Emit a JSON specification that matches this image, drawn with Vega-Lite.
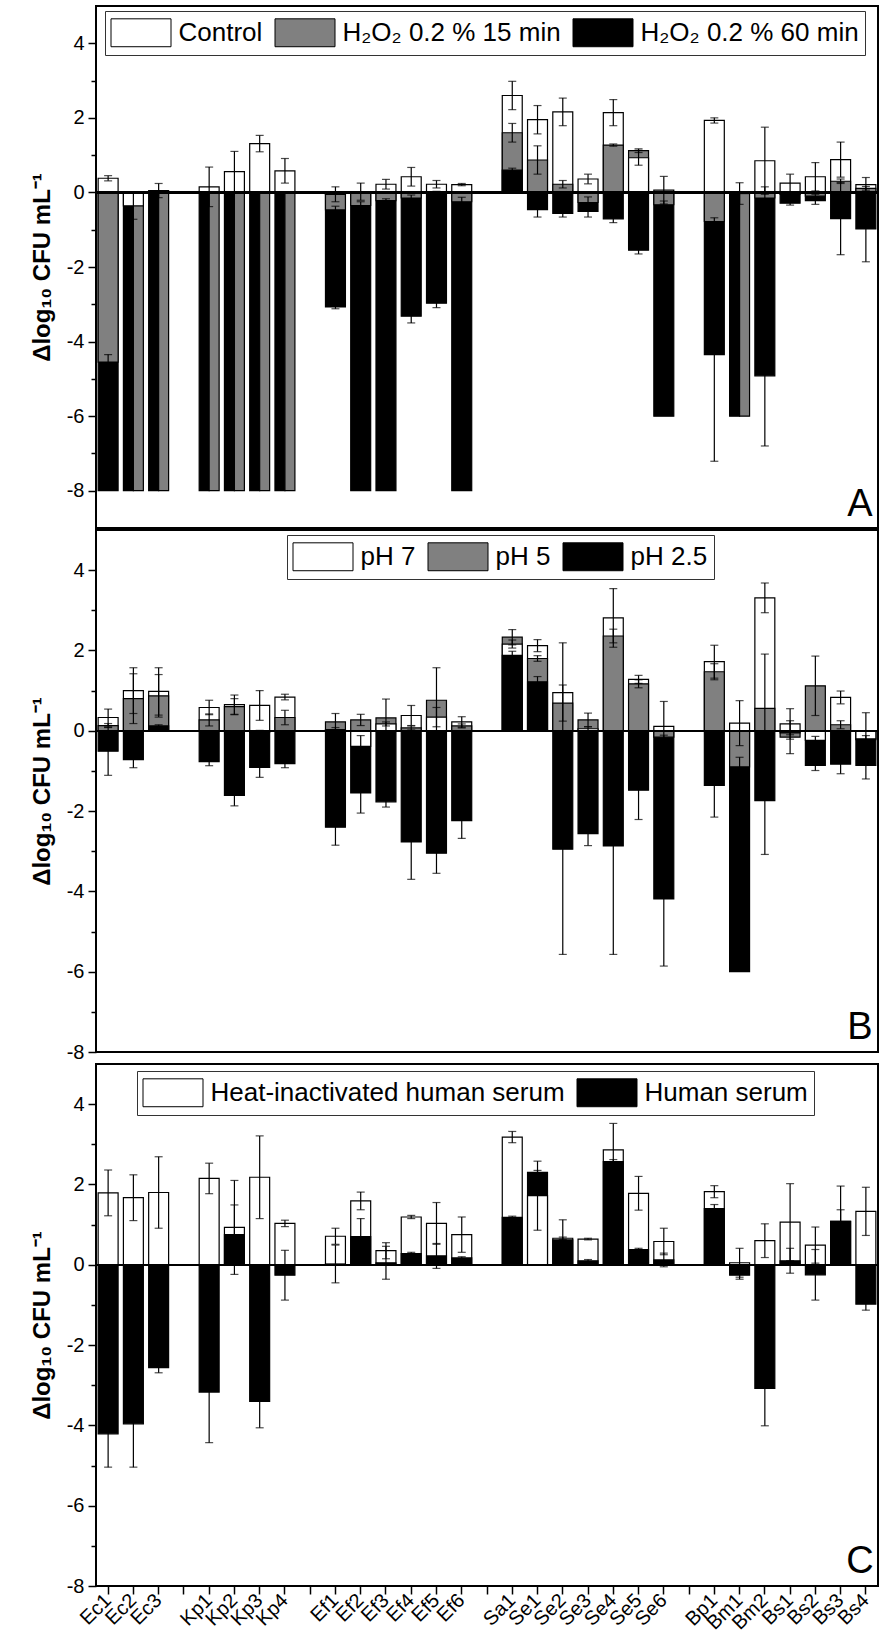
{
  "$schema": "https://vega.github.io/schema/vega-lite/v6.json",
  "padding": {"left": 29, "top": 5, "right": 0, "bottom": 0},
  "spacing": 0,
  "config": {
    "font": "Liberation Sans",
    "view": {"stroke": "black", "strokeWidth": 2},
    "axis": {"labelFontSize": 20, "labelColor": "black", "tickColor": "black", "tickWidth": 1.5, "domain": false, "grid": false, "titleColor": "black"},
    "legend": {
      "orient": "none", "direction": "horizontal", "title": null,
      "labelFontSize": 26, "labelColor": "black", "labelLimit": 600,
      "symbolType": "M-2,-0.93H2V0.93H-2Z", "symbolSize": 900, "symbolOffset": 14.5, "labelOffset": 22,
      "symbolStrokeColor": "black", "symbolStrokeWidth": 1, "symbolOpacity": 1,
      "strokeColor": "#333", "fillColor": "white", "padding": 6, "columnPadding": 10
    }
  },
  "datasets": {
    "h2o2": [
      {"k": "Ec1", "s": "H₂O₂ 0.2 % 60 min", "v": -8, "e": 0},
      {"k": "Ec1", "s": "H₂O₂ 0.2 % 15 min", "v": -4.55, "e": 0.2},
      {"k": "Ec1", "s": "Control", "v": 0.38, "e": 0.07},
      {"k": "Ec2", "s": "H₂O₂ 0.2 % 60 min", "v": -8, "e": 0, "tie": true},
      {"k": "Ec2", "s": "H₂O₂ 0.2 % 15 min", "v": -8, "e": 0, "tie": true},
      {"k": "Ec2", "s": "Control", "v": -0.36, "e": 0.36},
      {"k": "Ec3", "s": "H₂O₂ 0.2 % 60 min", "v": -8, "e": 0, "tie": true},
      {"k": "Ec3", "s": "H₂O₂ 0.2 % 15 min", "v": -8, "e": 0, "tie": true},
      {"k": "Ec3", "s": "Control", "v": 0.05, "e": 0.19},
      {"k": "Kp1", "s": "H₂O₂ 0.2 % 60 min", "v": -8, "e": 0, "tie": true},
      {"k": "Kp1", "s": "H₂O₂ 0.2 % 15 min", "v": -8, "e": 0, "tie": true},
      {"k": "Kp1", "s": "Control", "v": 0.15, "e": 0.53},
      {"k": "Kp2", "s": "H₂O₂ 0.2 % 60 min", "v": -8, "e": 0, "tie": true},
      {"k": "Kp2", "s": "H₂O₂ 0.2 % 15 min", "v": -8, "e": 0, "tie": true},
      {"k": "Kp2", "s": "Control", "v": 0.56, "e": 0.54},
      {"k": "Kp3", "s": "H₂O₂ 0.2 % 60 min", "v": -8, "e": 0, "tie": true},
      {"k": "Kp3", "s": "H₂O₂ 0.2 % 15 min", "v": -8, "e": 0, "tie": true},
      {"k": "Kp3", "s": "Control", "v": 1.31, "e": 0.22},
      {"k": "Kp4", "s": "H₂O₂ 0.2 % 60 min", "v": -8, "e": 0, "tie": true},
      {"k": "Kp4", "s": "H₂O₂ 0.2 % 15 min", "v": -8, "e": 0, "tie": true},
      {"k": "Kp4", "s": "Control", "v": 0.58, "e": 0.33},
      {"k": "Ef1", "s": "H₂O₂ 0.2 % 60 min", "v": -3.07, "e": 0.05},
      {"k": "Ef1", "s": "H₂O₂ 0.2 % 15 min", "v": -0.47, "e": 0.1},
      {"k": "Ef1", "s": "Control", "v": -0.05, "e": 0.2},
      {"k": "Ef2", "s": "H₂O₂ 0.2 % 60 min", "v": -8, "e": 0},
      {"k": "Ef2", "s": "H₂O₂ 0.2 % 15 min", "v": -0.35, "e": 0.1},
      {"k": "Ef2", "s": "Control", "v": 0.02, "e": 0.23},
      {"k": "Ef3", "s": "H₂O₂ 0.2 % 60 min", "v": -8, "e": 0},
      {"k": "Ef3", "s": "H₂O₂ 0.2 % 15 min", "v": -0.22, "e": 0.05},
      {"k": "Ef3", "s": "Control", "v": 0.22, "e": 0.13},
      {"k": "Ef4", "s": "H₂O₂ 0.2 % 60 min", "v": -3.32, "e": 0.18},
      {"k": "Ef4", "s": "Control", "v": 0.42, "e": 0.25},
      {"k": "Ef4", "s": "H₂O₂ 0.2 % 15 min", "v": -0.15, "e": 0.08},
      {"k": "Ef5", "s": "H₂O₂ 0.2 % 60 min", "v": -2.97, "e": 0.12},
      {"k": "Ef5", "s": "Control", "v": 0.22, "e": 0.1},
      {"k": "Ef5", "s": "H₂O₂ 0.2 % 15 min", "v": -0.02, "e": 0.05},
      {"k": "Ef6", "s": "H₂O₂ 0.2 % 60 min", "v": -8, "e": 0},
      {"k": "Ef6", "s": "H₂O₂ 0.2 % 15 min", "v": -0.25, "e": 0.12},
      {"k": "Ef6", "s": "Control", "v": 0.21, "e": 0.03},
      {"k": "Sa1", "s": "Control", "v": 2.6, "e": 0.38},
      {"k": "Sa1", "s": "H₂O₂ 0.2 % 15 min", "v": 1.6, "e": 0.25},
      {"k": "Sa1", "s": "H₂O₂ 0.2 % 60 min", "v": 0.6, "e": 0.05},
      {"k": "Se1", "s": "Control", "v": 1.95, "e": 0.38},
      {"k": "Se1", "s": "H₂O₂ 0.2 % 15 min", "v": 0.87, "e": 0.38},
      {"k": "Se1", "s": "H₂O₂ 0.2 % 60 min", "v": -0.46, "e": 0.2},
      {"k": "Se2", "s": "Control", "v": 2.16, "e": 0.37},
      {"k": "Se2", "s": "H₂O₂ 0.2 % 60 min", "v": -0.56, "e": 0.1},
      {"k": "Se2", "s": "H₂O₂ 0.2 % 15 min", "v": 0.22, "e": 0.1},
      {"k": "Se3", "s": "H₂O₂ 0.2 % 60 min", "v": -0.51, "e": 0.15},
      {"k": "Se3", "s": "Control", "v": 0.36, "e": 0.13},
      {"k": "Se3", "s": "H₂O₂ 0.2 % 15 min", "v": -0.27, "e": 0.15},
      {"k": "Se4", "s": "Control", "v": 2.14, "e": 0.35},
      {"k": "Se4", "s": "H₂O₂ 0.2 % 15 min", "v": 1.27, "e": 0.03},
      {"k": "Se4", "s": "H₂O₂ 0.2 % 60 min", "v": -0.71, "e": 0.1},
      {"k": "Se5", "s": "H₂O₂ 0.2 % 60 min", "v": -1.55, "e": 0.1},
      {"k": "Se5", "s": "H₂O₂ 0.2 % 15 min", "v": 1.12, "e": 0.05},
      {"k": "Se5", "s": "Control", "v": 0.93, "e": 0.2},
      {"k": "Se6", "s": "H₂O₂ 0.2 % 60 min", "v": -6, "e": 0},
      {"k": "Se6", "s": "H₂O₂ 0.2 % 15 min", "v": -0.33, "e": 0.1},
      {"k": "Se6", "s": "Control", "v": 0.06, "e": 0.37},
      {"k": "Bp1", "s": "H₂O₂ 0.2 % 60 min", "v": -4.35, "e": 2.86},
      {"k": "Bp1", "s": "Control", "v": 1.93, "e": 0.07},
      {"k": "Bp1", "s": "H₂O₂ 0.2 % 15 min", "v": -0.78, "e": 0.1},
      {"k": "Bm1", "s": "H₂O₂ 0.2 % 60 min", "v": -6, "e": 0, "tie": true},
      {"k": "Bm1", "s": "H₂O₂ 0.2 % 15 min", "v": -6, "e": 0, "tie": true},
      {"k": "Bm1", "s": "Control", "v": -0.03, "e": 0.29},
      {"k": "Bm2", "s": "H₂O₂ 0.2 % 60 min", "v": -4.92, "e": 1.88},
      {"k": "Bm2", "s": "Control", "v": 0.85, "e": 0.9},
      {"k": "Bm2", "s": "H₂O₂ 0.2 % 15 min", "v": -0.15, "e": 0.3},
      {"k": "Bs1", "s": "H₂O₂ 0.2 % 60 min", "v": -0.29, "e": 0.05},
      {"k": "Bs1", "s": "Control", "v": 0.25, "e": 0.24},
      {"k": "Bs1", "s": "H₂O₂ 0.2 % 15 min", "v": -0.05, "e": 0.05},
      {"k": "Bs2", "s": "Control", "v": 0.42, "e": 0.38},
      {"k": "Bs2", "s": "H₂O₂ 0.2 % 60 min", "v": -0.22, "e": 0.1},
      {"k": "Bs2", "s": "H₂O₂ 0.2 % 15 min", "v": -0.1, "e": 0.05},
      {"k": "Bs3", "s": "Control", "v": 0.88, "e": 0.47},
      {"k": "Bs3", "s": "H₂O₂ 0.2 % 60 min", "v": -0.7, "e": 0.97},
      {"k": "Bs3", "s": "H₂O₂ 0.2 % 15 min", "v": 0.3, "e": 0.06},
      {"k": "Bs4", "s": "H₂O₂ 0.2 % 60 min", "v": -0.98, "e": 0.88},
      {"k": "Bs4", "s": "Control", "v": 0.21, "e": 0.19},
      {"k": "Bs4", "s": "H₂O₂ 0.2 % 15 min", "v": 0.11, "e": 0.05}
    ],
    "ph": [
      {"k": "Ec1", "s": "pH 2.5", "v": -0.51, "e": 0.6},
      {"k": "Ec1", "s": "pH 7", "v": 0.33, "e": 0.21},
      {"k": "Ec1", "s": "pH 5", "v": 0.13, "e": 0.05},
      {"k": "Ec2", "s": "pH 7", "v": 1.0, "e": 0.57},
      {"k": "Ec2", "s": "pH 5", "v": 0.8, "e": 0.62},
      {"k": "Ec2", "s": "pH 2.5", "v": -0.72, "e": 0.2},
      {"k": "Ec3", "s": "pH 7", "v": 0.98, "e": 0.59},
      {"k": "Ec3", "s": "pH 5", "v": 0.87, "e": 0.53},
      {"k": "Ec3", "s": "pH 2.5", "v": 0.12, "e": 0.03},
      {"k": "Kp1", "s": "pH 2.5", "v": -0.77, "e": 0.1},
      {"k": "Kp1", "s": "pH 7", "v": 0.58, "e": 0.18},
      {"k": "Kp1", "s": "pH 5", "v": 0.27, "e": 0.15},
      {"k": "Kp2", "s": "pH 2.5", "v": -1.61, "e": 0.26},
      {"k": "Kp2", "s": "pH 7", "v": 0.65, "e": 0.24},
      {"k": "Kp2", "s": "pH 5", "v": 0.6, "e": 0.2},
      {"k": "Kp3", "s": "pH 2.5", "v": -0.91, "e": 0.25},
      {"k": "Kp3", "s": "pH 7", "v": 0.63, "e": 0.37},
      {"k": "Kp3", "s": "pH 5", "v": -0.04, "e": 0.05},
      {"k": "Kp4", "s": "pH 7", "v": 0.84, "e": 0.07},
      {"k": "Kp4", "s": "pH 2.5", "v": -0.82, "e": 0.1},
      {"k": "Kp4", "s": "pH 5", "v": 0.33, "e": 0.18},
      {"k": "Ef1", "s": "pH 2.5", "v": -2.4, "e": 0.45},
      {"k": "Ef1", "s": "pH 5", "v": 0.22, "e": 0.21},
      {"k": "Ef1", "s": "pH 7", "v": 0.03, "e": 0.05},
      {"k": "Ef2", "s": "pH 2.5", "v": -1.55, "e": 0.5},
      {"k": "Ef2", "s": "pH 7", "v": -0.39, "e": 0.27},
      {"k": "Ef2", "s": "pH 5", "v": 0.27, "e": 0.14},
      {"k": "Ef3", "s": "pH 2.5", "v": -1.77, "e": 0.13},
      {"k": "Ef3", "s": "pH 5", "v": 0.32, "e": 0.47},
      {"k": "Ef3", "s": "pH 7", "v": 0.17, "e": 0.05},
      {"k": "Ef4", "s": "pH 2.5", "v": -2.77, "e": 0.93},
      {"k": "Ef4", "s": "pH 7", "v": 0.38, "e": 0.25},
      {"k": "Ef4", "s": "pH 5", "v": 0.07, "e": 0.05},
      {"k": "Ef5", "s": "pH 2.5", "v": -3.05, "e": 0.5},
      {"k": "Ef5", "s": "pH 5", "v": 0.76, "e": 0.81},
      {"k": "Ef5", "s": "pH 7", "v": 0.34, "e": 0.24},
      {"k": "Ef6", "s": "pH 2.5", "v": -2.24, "e": 0.44},
      {"k": "Ef6", "s": "pH 7", "v": 0.22, "e": 0.13},
      {"k": "Ef6", "s": "pH 5", "v": 0.12, "e": 0.05},
      {"k": "Sa1", "s": "pH 5", "v": 2.33, "e": 0.19},
      {"k": "Sa1", "s": "pH 7", "v": 2.16, "e": 0.1},
      {"k": "Sa1", "s": "pH 2.5", "v": 1.88, "e": 0.1},
      {"k": "Se1", "s": "pH 7", "v": 2.12, "e": 0.15},
      {"k": "Se1", "s": "pH 5", "v": 1.8, "e": 0.07},
      {"k": "Se1", "s": "pH 2.5", "v": 1.22, "e": 0.13},
      {"k": "Se2", "s": "pH 2.5", "v": -2.95, "e": 2.62},
      {"k": "Se2", "s": "pH 7", "v": 0.95, "e": 1.24},
      {"k": "Se2", "s": "pH 5", "v": 0.69, "e": 0.45},
      {"k": "Se3", "s": "pH 2.5", "v": -2.56, "e": 0.3},
      {"k": "Se3", "s": "pH 5", "v": 0.27, "e": 0.17},
      {"k": "Se3", "s": "pH 7", "v": 0.05, "e": 0.05},
      {"k": "Se4", "s": "pH 2.5", "v": -2.87, "e": 2.7},
      {"k": "Se4", "s": "pH 7", "v": 2.81, "e": 0.73},
      {"k": "Se4", "s": "pH 5", "v": 2.36, "e": 0.17},
      {"k": "Se5", "s": "pH 2.5", "v": -1.48, "e": 0.73},
      {"k": "Se5", "s": "pH 7", "v": 1.28, "e": 0.1},
      {"k": "Se5", "s": "pH 5", "v": 1.17, "e": 0.1},
      {"k": "Se6", "s": "pH 2.5", "v": -4.19, "e": 1.67},
      {"k": "Se6", "s": "pH 5", "v": -0.16, "e": 0.05},
      {"k": "Se6", "s": "pH 7", "v": 0.11, "e": 0.62},
      {"k": "Bp1", "s": "pH 7", "v": 1.72, "e": 0.41},
      {"k": "Bp1", "s": "pH 5", "v": 1.47, "e": 0.2},
      {"k": "Bp1", "s": "pH 2.5", "v": -1.36, "e": 0.79},
      {"k": "Bm1", "s": "pH 2.5", "v": -6, "e": 0},
      {"k": "Bm1", "s": "pH 5", "v": -0.9, "e": 0.24},
      {"k": "Bm1", "s": "pH 7", "v": 0.19, "e": 0.56},
      {"k": "Bm2", "s": "pH 7", "v": 3.31, "e": 0.37},
      {"k": "Bm2", "s": "pH 2.5", "v": -1.74, "e": 1.34},
      {"k": "Bm2", "s": "pH 5", "v": 0.56, "e": 1.35},
      {"k": "Bs1", "s": "pH 7", "v": 0.17, "e": 0.38},
      {"k": "Bs1", "s": "pH 5", "v": -0.16, "e": 0.41},
      {"k": "Bs1", "s": "pH 2.5", "v": -0.05, "e": 0.05},
      {"k": "Bs2", "s": "pH 5", "v": 1.12, "e": 0.74},
      {"k": "Bs2", "s": "pH 2.5", "v": -0.86, "e": 0.13},
      {"k": "Bs2", "s": "pH 7", "v": -0.24, "e": 0.1},
      {"k": "Bs3", "s": "pH 2.5", "v": -0.83, "e": 0.24},
      {"k": "Bs3", "s": "pH 7", "v": 0.83, "e": 0.16},
      {"k": "Bs3", "s": "pH 5", "v": 0.15, "e": 0.1},
      {"k": "Bs4", "s": "pH 2.5", "v": -0.86, "e": 0.34},
      {"k": "Bs4", "s": "pH 5", "v": -0.22, "e": 0.1},
      {"k": "Bs4", "s": "pH 7", "v": -0.2, "e": 0.65}
    ],
    "serum": [
      {"k": "Ec1", "s": "Human serum", "v": -4.21, "e": 0.83},
      {"k": "Ec1", "s": "Heat-inactivated human serum", "v": 1.79, "e": 0.57},
      {"k": "Ec2", "s": "Human serum", "v": -3.96, "e": 1.08},
      {"k": "Ec2", "s": "Heat-inactivated human serum", "v": 1.67, "e": 0.57},
      {"k": "Ec3", "s": "Human serum", "v": -2.56, "e": 0.13},
      {"k": "Ec3", "s": "Heat-inactivated human serum", "v": 1.8, "e": 0.89},
      {"k": "Kp1", "s": "Human serum", "v": -3.17, "e": 1.26},
      {"k": "Kp1", "s": "Heat-inactivated human serum", "v": 2.15, "e": 0.38},
      {"k": "Kp2", "s": "Heat-inactivated human serum", "v": 0.93, "e": 1.17},
      {"k": "Kp2", "s": "Human serum", "v": 0.75, "e": 0.74},
      {"k": "Kp3", "s": "Human serum", "v": -3.4, "e": 0.66},
      {"k": "Kp3", "s": "Heat-inactivated human serum", "v": 2.18, "e": 1.03},
      {"k": "Kp4", "s": "Heat-inactivated human serum", "v": 1.03, "e": 0.08},
      {"k": "Kp4", "s": "Human serum", "v": -0.26, "e": 0.62},
      {"k": "Ef1", "s": "Heat-inactivated human serum", "v": 0.71, "e": 0.2},
      {"k": "Ef1", "s": "Human serum", "v": 0.02, "e": 0.47},
      {"k": "Ef2", "s": "Heat-inactivated human serum", "v": 1.59, "e": 0.22},
      {"k": "Ef2", "s": "Human serum", "v": 0.7, "e": 0.45},
      {"k": "Ef3", "s": "Heat-inactivated human serum", "v": 0.35, "e": 0.2},
      {"k": "Ef3", "s": "Human serum", "v": 0.05, "e": 0.41},
      {"k": "Ef4", "s": "Heat-inactivated human serum", "v": 1.19, "e": 0.04},
      {"k": "Ef4", "s": "Human serum", "v": 0.28, "e": 0.03},
      {"k": "Ef5", "s": "Heat-inactivated human serum", "v": 1.03, "e": 0.52},
      {"k": "Ef5", "s": "Human serum", "v": 0.22, "e": 0.31},
      {"k": "Ef6", "s": "Heat-inactivated human serum", "v": 0.75, "e": 0.44},
      {"k": "Ef6", "s": "Human serum", "v": 0.17, "e": 0.03},
      {"k": "Sa1", "s": "Heat-inactivated human serum", "v": 3.18, "e": 0.14},
      {"k": "Sa1", "s": "Human serum", "v": 1.18, "e": 0.03},
      {"k": "Se1", "s": "Human serum", "v": 2.3, "e": 0.05},
      {"k": "Se1", "s": "Heat-inactivated human serum", "v": 1.72, "e": 0.86},
      {"k": "Se2", "s": "Heat-inactivated human serum", "v": 0.66, "e": 0.03},
      {"k": "Se2", "s": "Human serum", "v": 0.62, "e": 0.5},
      {"k": "Se3", "s": "Heat-inactivated human serum", "v": 0.64, "e": 0.02},
      {"k": "Se3", "s": "Human serum", "v": 0.1, "e": 0.03},
      {"k": "Se4", "s": "Heat-inactivated human serum", "v": 2.86, "e": 0.66},
      {"k": "Se4", "s": "Human serum", "v": 2.57, "e": 0.05},
      {"k": "Se5", "s": "Heat-inactivated human serum", "v": 1.78, "e": 0.42},
      {"k": "Se5", "s": "Human serum", "v": 0.38, "e": 0.03},
      {"k": "Se6", "s": "Heat-inactivated human serum", "v": 0.58, "e": 0.33},
      {"k": "Se6", "s": "Human serum", "v": 0.12, "e": 0.17},
      {"k": "Bp1", "s": "Heat-inactivated human serum", "v": 1.82, "e": 0.15},
      {"k": "Bp1", "s": "Human serum", "v": 1.4, "e": 0.1},
      {"k": "Bm1", "s": "Human serum", "v": -0.26, "e": 0.1},
      {"k": "Bm1", "s": "Heat-inactivated human serum", "v": 0.05, "e": 0.36},
      {"k": "Bm2", "s": "Human serum", "v": -3.08, "e": 0.93},
      {"k": "Bm2", "s": "Heat-inactivated human serum", "v": 0.6, "e": 0.42},
      {"k": "Bs1", "s": "Heat-inactivated human serum", "v": 1.06, "e": 0.96},
      {"k": "Bs1", "s": "Human serum", "v": 0.1, "e": 0.31},
      {"k": "Bs2", "s": "Heat-inactivated human serum", "v": 0.49, "e": 0.45},
      {"k": "Bs2", "s": "Human serum", "v": -0.25, "e": 0.63},
      {"k": "Bs3", "s": "Heat-inactivated human serum", "v": 1.08, "e": 0.88},
      {"k": "Bs3", "s": "Human serum", "v": 1.08, "e": 0.29},
      {"k": "Bs4", "s": "Heat-inactivated human serum", "v": 1.33, "e": 0.6},
      {"k": "Bs4", "s": "Human serum", "v": -0.98, "e": 0.15}
    ]
  },
  "resolve": {"scale": {"fill": "independent", "y": "independent"}, "legend": {"fill": "independent"}},
  "vconcat": [
    {
      "width": 782,
      "height": 522,
      "data": {"name": "h2o2"},
      "layer": [
        {
          "transform": [{"filter": "datum.tie"}],
          "mark": {"type": "bar", "stroke": "black", "strokeWidth": 1.2},
          "encoding": {
            "x": {"field": "k", "type": "nominal", "title": null, "axis": null,
              "scale": {"domain": ["Ec1","Ec2","Ec3","gap1","Kp1","Kp2","Kp3","Kp4","gap2","Ef1","Ef2","Ef3","Ef4","Ef5","Ef6","gap3","Sa1","Se1","Se2","Se3","Se4","Se5","Se6","gap4","Bp1","Bm1","Bm2","Bs1","Bs2","Bs3","Bs4"], "paddingInner": 0.21, "paddingOuter": 0.085}},
            "xOffset": {"field": "s", "type": "nominal", "scale": {"domain": ["H₂O₂ 0.2 % 60 min", "H₂O₂ 0.2 % 15 min"]}},
            "y": {"field": "v", "type": "quantitative", "stack": null, "title": "Δlog₁₀ CFU mL⁻¹", "scale": {"domain": [-9, 5], "nice": false}},
            "fill": {"field": "s", "type": "nominal",
              "scale": {"domain": ["Control", "H₂O₂ 0.2 % 15 min", "H₂O₂ 0.2 % 60 min"], "range": ["white", "#808080", "black"]},
              "legend": {"legendX": 9, "legendY": 5}}
          }
        },
        {
          "transform": [{"filter": "!datum.tie"}],
          "mark": {"type": "bar", "stroke": "black", "strokeWidth": 1.2},
          "encoding": {
            "x": {"field": "k", "type": "nominal", "title": null, "axis": null,
              "scale": {"domain": ["Ec1","Ec2","Ec3","gap1","Kp1","Kp2","Kp3","Kp4","gap2","Ef1","Ef2","Ef3","Ef4","Ef5","Ef6","gap3","Sa1","Se1","Se2","Se3","Se4","Se5","Se6","gap4","Bp1","Bm1","Bm2","Bs1","Bs2","Bs3","Bs4"], "paddingInner": 0.21, "paddingOuter": 0.085}},
            "y": {"field": "v", "type": "quantitative", "stack": null, "title": "Δlog₁₀ CFU mL⁻¹",
              "scale": {"domain": [-9, 5], "nice": false},
              "axis": {"values": [-8,-7,-6,-5,-4,-3,-2,-1,0,1,2,3,4], "titleFontSize": 24, "titleFontWeight": "bold", "titlePadding": 12, "labelPadding": 4,
                "tickSize": {"condition": {"test": "datum.value % 2 != 0", "value": 5}, "value": 8},
                "labelExpr": "datum.value % 2 != 0 ? '' : (datum.value < 0 ? '-' + abs(datum.value) : '' + datum.value)"}},
            "fill": {"field": "s", "type": "nominal",
              "scale": {"domain": ["Control", "H₂O₂ 0.2 % 15 min", "H₂O₂ 0.2 % 60 min"], "range": ["white", "#808080", "black"]},
              "legend": {"legendX": 9, "legendY": 5}}
          }
        },
        {
          "mark": {"type": "rule", "color": "black", "strokeWidth": 1.5},
          "encoding": {"y": {"datum": 0, "type": "quantitative"}}
        },
        {
          "transform": [{"filter": "datum.e > 0"}],
          "mark": {"type": "errorbar", "color": "black", "thickness": 1.2, "ticks": {"size": 8}},
          "encoding": {
            "x": {"field": "k", "type": "nominal", "title": null},
            "y": {"field": "v", "type": "quantitative", "title": "Δlog₁₀ CFU mL⁻¹"},
            "yError": {"field": "e"}
          }
        },
        {
          "data": {"values": [{"p": "A"}]},
          "mark": {"type": "text", "fontSize": 38, "baseline": "alphabetic", "dx": -6},
          "encoding": {
            "x": {"datum": "Bs4", "type": "nominal"},
            "y": {"datum": -8.67, "type": "quantitative"},
            "text": {"field": "p"}
          }
        }
      ]
    },
    {
      "width": 782,
      "height": 522,
      "data": {"name": "ph"},
      "layer": [
        {
          "mark": {"type": "bar", "stroke": "black", "strokeWidth": 1.2},
          "encoding": {
            "x": {"field": "k", "type": "nominal", "title": null, "axis": null,
              "scale": {"domain": ["Ec1","Ec2","Ec3","gap1","Kp1","Kp2","Kp3","Kp4","gap2","Ef1","Ef2","Ef3","Ef4","Ef5","Ef6","gap3","Sa1","Se1","Se2","Se3","Se4","Se5","Se6","gap4","Bp1","Bm1","Bm2","Bs1","Bs2","Bs3","Bs4"], "paddingInner": 0.21, "paddingOuter": 0.085}},
            "y": {"field": "v", "type": "quantitative", "stack": null, "title": "Δlog₁₀ CFU mL⁻¹",
              "scale": {"domain": [-8, 5], "nice": false},
              "axis": {"values": [-8,-7,-6,-5,-4,-3,-2,-1,0,1,2,3,4], "titleFontSize": 24, "titleFontWeight": "bold", "titlePadding": 12, "labelPadding": 4,
                "tickSize": {"condition": {"test": "datum.value % 2 != 0", "value": 5}, "value": 8},
                "labelExpr": "datum.value % 2 != 0 ? '' : (datum.value < 0 ? '-' + abs(datum.value) : '' + datum.value)"}},
            "fill": {"field": "s", "type": "nominal",
              "scale": {"domain": ["pH 7", "pH 5", "pH 2.5"], "range": ["white", "#808080", "black"]},
              "legend": {"legendX": 191, "legendY": 5}}
          }
        },
        {
          "mark": {"type": "rule", "color": "black", "strokeWidth": 1.5},
          "encoding": {"y": {"datum": 0, "type": "quantitative"}}
        },
        {
          "transform": [{"filter": "datum.e > 0"}],
          "mark": {"type": "errorbar", "color": "black", "thickness": 1.2, "ticks": {"size": 8}},
          "encoding": {
            "x": {"field": "k", "type": "nominal", "title": null},
            "y": {"field": "v", "type": "quantitative", "title": "Δlog₁₀ CFU mL⁻¹"},
            "yError": {"field": "e"}
          }
        },
        {
          "data": {"values": [{"p": "B"}]},
          "mark": {"type": "text", "fontSize": 38, "baseline": "alphabetic", "dx": -6},
          "encoding": {
            "x": {"datum": "Bs4", "type": "nominal"},
            "y": {"datum": -7.67, "type": "quantitative"},
            "text": {"field": "p"}
          }
        }
      ]
    },
    {
      "width": 782,
      "height": 522,
      "data": {"name": "serum"},
      "layer": [
        {
          "mark": {"type": "bar", "stroke": "black", "strokeWidth": 1.2},
          "encoding": {
            "x": {"field": "k", "type": "nominal", "title": null,
              "scale": {"domain": ["Ec1","Ec2","Ec3","gap1","Kp1","Kp2","Kp3","Kp4","gap2","Ef1","Ef2","Ef3","Ef4","Ef5","Ef6","gap3","Sa1","Se1","Se2","Se3","Se4","Se5","Se6","gap4","Bp1","Bm1","Bm2","Bs1","Bs2","Bs3","Bs4"], "paddingInner": 0.21, "paddingOuter": 0.085},
              "axis": {"labelAngle": -45, "labelAlign": "right", "labelBaseline": "middle", "labelFontSize": 20, "tickSize": 8, "labelPadding": 3,
                "labelExpr": "datum.value[0] == 'g' ? '' : datum.value"}},
            "y": {"field": "v", "type": "quantitative", "stack": null, "title": "Δlog₁₀ CFU mL⁻¹",
              "scale": {"domain": [-8, 5], "nice": false},
              "axis": {"values": [-8,-7,-6,-5,-4,-3,-2,-1,0,1,2,3,4], "titleFontSize": 24, "titleFontWeight": "bold", "titlePadding": 12, "labelPadding": 4,
                "tickSize": {"condition": {"test": "datum.value % 2 != 0", "value": 5}, "value": 8},
                "labelExpr": "datum.value % 2 != 0 ? '' : (datum.value < 0 ? '-' + abs(datum.value) : '' + datum.value)"}},
            "fill": {"field": "s", "type": "nominal",
              "scale": {"domain": ["Heat-inactivated human serum", "Human serum"], "range": ["white", "black"]},
              "legend": {"legendX": 41, "legendY": 7}}
          }
        },
        {
          "mark": {"type": "rule", "color": "black", "strokeWidth": 1.5},
          "encoding": {"y": {"datum": 0, "type": "quantitative"}}
        },
        {
          "transform": [{"filter": "datum.e > 0"}],
          "mark": {"type": "errorbar", "color": "black", "thickness": 1.2, "ticks": {"size": 8}},
          "encoding": {
            "x": {"field": "k", "type": "nominal", "title": null},
            "y": {"field": "v", "type": "quantitative", "title": "Δlog₁₀ CFU mL⁻¹"},
            "yError": {"field": "e"}
          }
        },
        {
          "data": {"values": [{"p": "C"}]},
          "mark": {"type": "text", "fontSize": 38, "baseline": "alphabetic", "dx": -6},
          "encoding": {
            "x": {"datum": "Bs4", "type": "nominal"},
            "y": {"datum": -7.67, "type": "quantitative"},
            "text": {"field": "p"}
          }
        }
      ]
    }
  ]
}
